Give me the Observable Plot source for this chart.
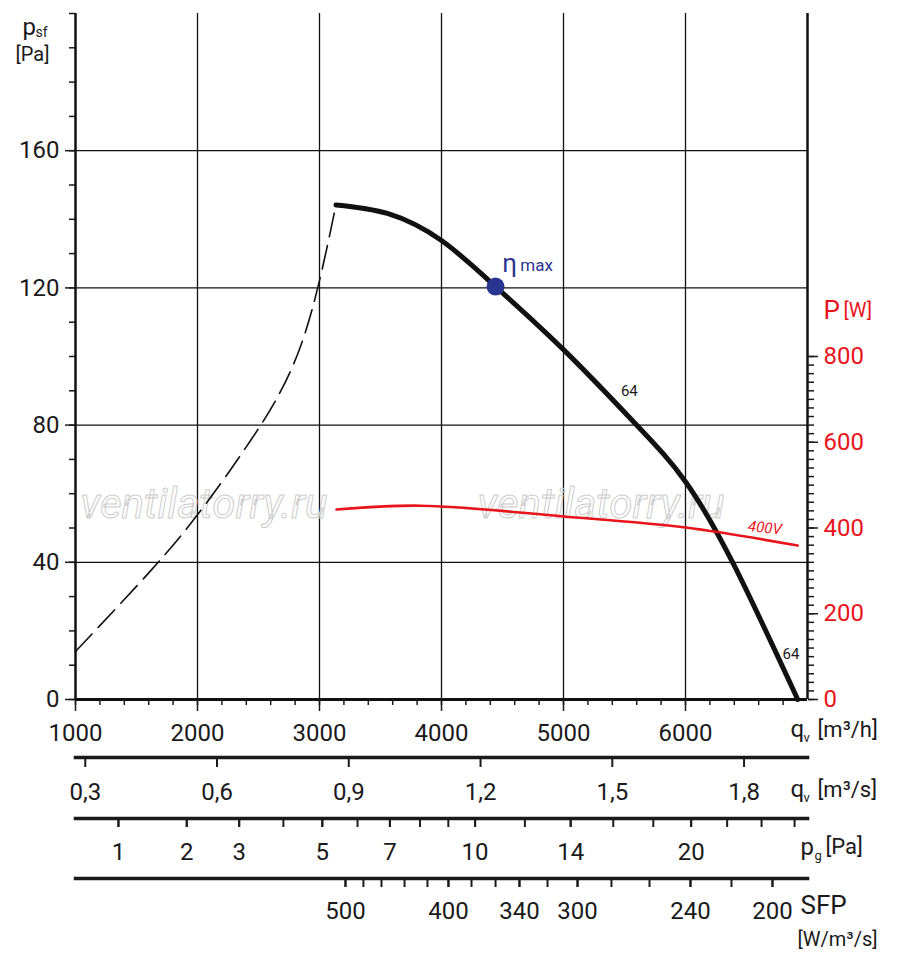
<!DOCTYPE html>
<html><head><meta charset="utf-8">
<script src="https://cdn.jsdelivr.net/npm/d3@7"></script>
<script src="https://cdn.jsdelivr.net/npm/@observablehq/plot@0.6"></script>
<style>body{margin:0;background:#fff}</style>
</head><body><div id="chart"></div>
<script>
// fan curve (solid) q [m3/h], psf [Pa]
const curveQ = [3135, 3557, 4000, 4443, 5000, 5600, 6000, 6400, 6920];
const curvePsf = [144.2, 141.7, 133.8, 120.4, 102, 80, 63.5, 39, 0];
// unstable region (dashed)
const dashQ = [1000, 1615, 2025, 2435, 2845, 3135];
const dashPsf = [14, 37.5, 55, 75.5, 103, 144.2];
// power curve 400V [W]
const powQ = [3140, 3830, 5000, 6000, 6920];
const powW = [443, 452, 427, 401, 359];
// eta max point
const etaQ = 4443, etaPsf = 120.4;
// axis ticks
const qhTicks = [1000, 2000, 3000, 4000, 5000, 6000];
const qsTicks = [0.3, 0.6, 0.9, 1.2, 1.5, 1.8];
const pgAll = [1,2,3,4,5,6,7,8,9,10,12,14,16,18,20,22,24,26];
const pgLabeled = [1,2,3,5,7,10,14,20];
const pgRefQ = 1352; // m3/h at pg = 1 Pa
const sfpVals = [500,480,460,440,420,400,380,360,340,320,300,280,260,240,220,200];
const sfpQ = [3213,3360,3508,3697,3885,4057,4246,4443,4639,4869,5115,5393,5705,6041,6377,6713];
const sfpLabeled = [500,400,340,300,240,200];
const psfTicks = [0,40,80,120,160];
const RATIO = 8; // W per Pa on the twin axis

const RED = "#e8141c", BLUE = "#2a3590";
const F = "Roboto, sans-serif";
const rng = (a,b,s)=>d3.range(a,b+s/2,s);
const mk = (xs, ys) => xs.map((x,i)=>({x, y: ys[i]}));
const sfpMap = new Map(sfpVals.map((v,i)=>[v,sfpQ[i]]));
const none = () => "";

const axisText = {fontSize: 24, fontFamily: F};
const lbl = (s, anchor, dx, dy, size, extra={}) =>
  Plot.text([s], {frameAnchor: anchor, textAnchor: "start", dx, dy, fontSize: size, fontFamily: F, ...extra});

const chart = Plot.plot({
  width: 900, height: 967,
  marginTop: 13, marginLeft: 75, marginRight: 93, marginBottom: 268,
  x: {domain: [1000, 7000], axis: null},
  y: {domain: [0, 200], axis: null},
  style: {fontFamily: F, color: "#1a1a1a", overflow: "visible"},
  marks: [
    Plot.ruleX([2000,3000,4000,5000,6000], {stroke: "#111", strokeWidth: 1.3}),
    Plot.ruleY([40,80,120,160], {stroke: "#111", strokeWidth: 1.3}),
    lbl("ventilatorry.ru", "top-left", 5, 475, 42, {fontStyle: "italic", fill: "none", stroke: "#ccc", strokeWidth: 1}),
    lbl("ventilatorry.ru", "top-left", 402, 475, 42, {fontStyle: "italic", fill: "none", stroke: "#ccc", strokeWidth: 1}),
    Plot.ruleX([1000, 7000], {stroke: "#111", strokeWidth: 2.5}),
    Plot.ruleY([0], {stroke: "#111", strokeWidth: 3}),
    // left axis
    Plot.axisY(rng(0,200,10), {anchor: "left", label: null, tickSize: 6, tickFormat: none, strokeWidth: 1.5}),
    Plot.axisY(psfTicks, {anchor: "left", label: null, tickSize: 10, tickPadding: 6, strokeWidth: 1.5, ...axisText}),
    lbl("p", "top-left", -53, 4, 24),
    lbl("sf", "top-left", -40, 14, 14),
    lbl("[Pa]", "top-left", -60, 33, 20),
    // right axis (power)
    Plot.axisY(rng(0,800,20).map(d=>d/RATIO), {anchor: "right", label: null, tickSize: 6, tickFormat: none, strokeWidth: 1.5}),
    Plot.axisY(rng(0,800,200).map(d=>d/RATIO), {anchor: "right", label: null, tickSize: 10, tickPadding: 6, strokeWidth: 1.5, tickFormat: d=>String(d*RATIO), fill: RED, ...axisText}),
    lbl("P", "top-right", 16, 287, 26, {fill: RED}),
    lbl("[W]", "top-right", 36, 289, 20, {fill: RED}),
    // curves
    Plot.line(mk(dashQ, dashPsf), {x: "x", y: "y", curve: "natural", stroke: "#111", strokeWidth: 1.6, strokeDasharray: "24,9"}),
    Plot.line(mk(curveQ, curvePsf), {x: "x", y: "y", curve: "natural", stroke: "#111", strokeWidth: 5}),
    Plot.line(mk(powQ, powW.map(d=>d/RATIO)), {x: "x", y: "y", curve: "catmull-rom", stroke: RED, strokeWidth: 2.6}),
    Plot.dot([{x: etaQ, y: etaPsf}], {x: "x", y: "y", r: 9, fill: BLUE}),
    Plot.text(["η"], {x: [etaQ], y: [etaPsf], dx: 14, dy: -23, fontSize: 26, fill: BLUE, fontFamily: F}),
    Plot.text(["max"], {x: [etaQ], y: [etaPsf], dx: 41, dy: -21, fontSize: 17, fill: BLUE, fontFamily: F}),
    Plot.text(["64"], {x: [5540], y: [90], fontSize: 15, fontFamily: F}),
    lbl("64", "top-right", -25, 635, 15),
    Plot.text(["400V"], {x: [6650], y: [50], fontSize: 15, fontStyle: "italic", fill: RED, fontFamily: F, rotate: 6}),
    // x axis m3/h
    Plot.axisX(rng(1000,6800,200), {anchor: "bottom", label: null, tickSize: 6, tickFormat: none, strokeWidth: 1.5}),
    Plot.axisX(qhTicks, {anchor: "bottom", label: null, tickSize: 12, tickPadding: 12, strokeWidth: 1.5, tickFormat: d=>String(d), ...axisText}),
    lbl("q", "bottom-right", -17, 37, 24),
    lbl("v", "bottom-right", -4, 42, 13),
    lbl("[m³/h]", "bottom-right", 10, 37, 22),
    // q m3/s
    Plot.frame({anchor: "bottom", dy: 58, strokeWidth: 3.5}),
    Plot.axisX(qsTicks.map(d=>d*3600), {anchor: "bottom", label: null, dy: 58, tickSize: 10, tickPadding: 15, strokeWidth: 2, tickFormat: d=>(d/3600).toFixed(1).replace(".", ","), ...axisText}),
    lbl("q", "bottom-right", -17, 97, 24),
    lbl("v", "bottom-right", -4, 102, 13),
    lbl("[m³/s]", "bottom-right", 10, 97, 22),
    // pg
    Plot.frame({anchor: "bottom", dy: 119, strokeWidth: 3.5}),
    Plot.axisX(pgAll.map(d=>pgRefQ*Math.sqrt(d)), {anchor: "bottom", label: null, dy: 119, tickSize: 9, tickFormat: none, strokeWidth: 2}),
    Plot.axisX(pgLabeled.map(d=>pgRefQ*Math.sqrt(d)), {anchor: "bottom", label: null, dy: 119, tickSize: 9, tickPadding: 15, strokeWidth: 2, tickFormat: d=>String(Math.round((d/pgRefQ)**2)), ...axisText}),
    lbl("p", "bottom-right", -7, 155, 24),
    lbl("g", "bottom-right", 7, 160, 13),
    lbl("[Pa]", "bottom-right", 18, 154, 22),
    // SFP
    Plot.frame({anchor: "bottom", dy: 179, strokeWidth: 3.5}),
    Plot.axisX(sfpQ, {anchor: "bottom", label: null, dy: 179, tickSize: 9, tickFormat: none, strokeWidth: 2}),
    Plot.axisX(sfpLabeled.map(v=>sfpMap.get(v)), {anchor: "bottom", label: null, dy: 179, tickSize: 9, tickPadding: 14, strokeWidth: 2, tickFormat: d=>String(sfpVals[sfpQ.indexOf(d)]), ...axisText}),
    lbl("SFP", "bottom-right", -7, 214, 26, {letterSpacing: "2px"}),
    lbl("[W/m³/s]", "bottom-right", -10, 246, 20)
  ]
});
document.getElementById("chart").appendChild(chart);
</script></body></html>
